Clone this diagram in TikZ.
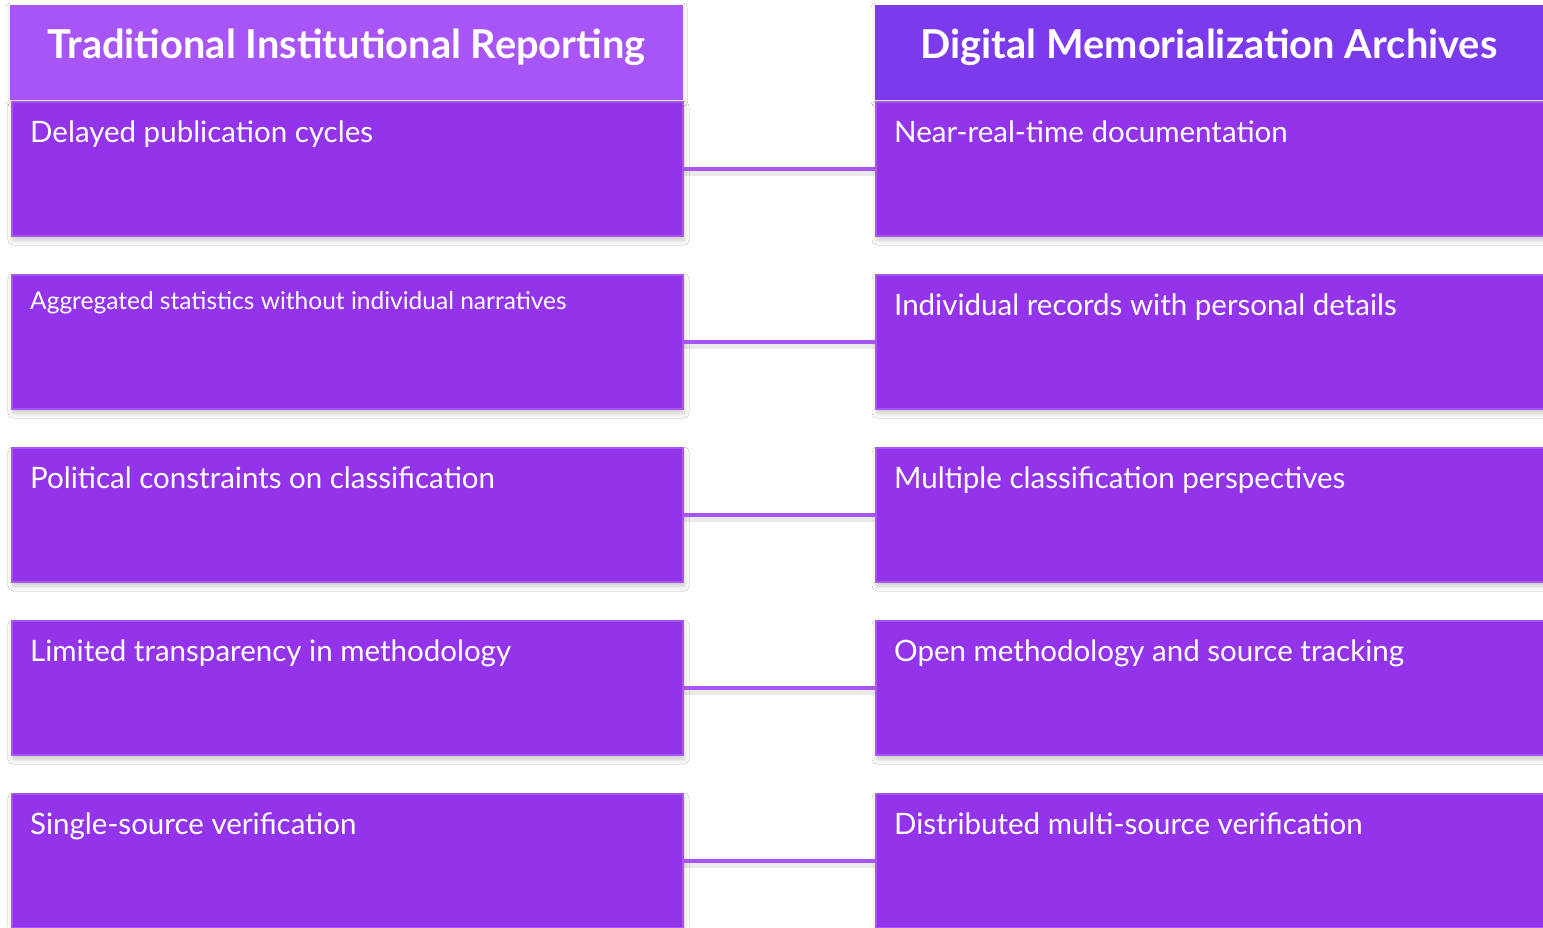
\documentclass[tikz,border=0pt]{standalone}
\usepackage{fontspec}
\setmainfont{Lato}
\usetikzlibrary{shadows.blur}
\definecolor{hdrL}{HTML}{A855F7}
\definecolor{hdrR}{HTML}{7C3AED}
\definecolor{boxfill}{HTML}{9333EA}
\definecolor{boxedge}{HTML}{A855F7}
\definecolor{linkc}{HTML}{A855F7}
\tikzset{
  hdr/.style={rectangle, inner sep=0pt, anchor=north west, minimum height=95pt, draw=none,
    blur shadow={shadow xshift=0pt, shadow yshift=-2pt, shadow blur radius=4pt, shadow opacity=15}},
  itembox/.style={rectangle, inner sep=0pt, anchor=north west, minimum width=671pt, minimum height=134pt,
    fill=boxfill, draw=boxedge, line width=2pt,
    blur shadow={shadow xshift=1pt, shadow yshift=-4pt, shadow blur radius=5pt, shadow opacity=22}},
  hdrtext/.style={anchor=base, text=white, font=\bfseries\fontsize{39.8}{48}\selectfont, inner sep=0pt},
  itemtext/.style={anchor=base west, text=white, font=\fontsize{29.5}{35}\selectfont, inner sep=0pt},
  smalltext/.style={anchor=base west, text=white, font=\fontsize{24.5}{29}\selectfont, inner sep=0pt},
  link/.style={draw=linkc, line width=4pt},
  linkshadow/.style={draw=black, line width=5pt, opacity=0.08}
}
\begin{document}
\begin{tikzpicture}[x=1pt,y=-1pt]
\useasboundingbox[fill=white] (0,0) rectangle (1543,927);
% headers
\node[hdr, fill=hdrL, minimum width=673pt] (hL) at (10,5) {};
\node[hdr, fill=hdrR, minimum width=670pt] (hR) at (875,5) {};
\node[hdrtext] (tL) at (346.5,58) {Traditional Institutional Reporting};
\node[hdrtext] (tR) at (1209,58) {Digital Memorialization Archives};
% left boxes
\node[itembox] (L1) at (11,101) {};
\node[itembox] (L2) at (11,274) {};
\node[itembox] (L3) at (11,447) {};
\node[itembox] (L4) at (11,620) {};
\node[itembox] (L5) at (11,793) {};
% right boxes
\node[itembox, minimum width=680pt] (R1) at (875,101) {};
\node[itembox, minimum width=680pt] (R2) at (875,274) {};
\node[itembox, minimum width=680pt] (R3) at (875,447) {};
\node[itembox, minimum width=680pt] (R4) at (875,620) {};
\node[itembox, minimum width=680pt] (R5) at (875,793) {};
% connectors
\foreach \i in {1,...,5}{
  \path[linkshadow] ([yshift=-4pt]L\i.east) -- ([yshift=-4pt]R\i.west);
  \path[link] (L\i.east) -- (R\i.west);
}
% texts
\node[itemtext] (a1) at (30,142) {Delayed publication cycles};
\node[smalltext] (a2) at (30,309) {Aggregated statistics without individual narratives};
\node[itemtext] (a3) at (30,488) {Political constraints on classification};
\node[itemtext] (a4) at (30,661) {Limited transparency in methodology};
\node[itemtext] (a5) at (30,834) {Single-source verification};
\node[itemtext] (b1) at (894,142) {Near-real-time documentation};
\node[itemtext] (b2) at (894,315) {Individual records with personal details};
\node[itemtext] (b3) at (894,488) {Multiple classification perspectives};
\node[itemtext] (b4) at (894,661) {Open methodology and source tracking};
\node[itemtext] (b5) at (894,834) {Distributed multi-source verification};
\end{tikzpicture}
\end{document}
